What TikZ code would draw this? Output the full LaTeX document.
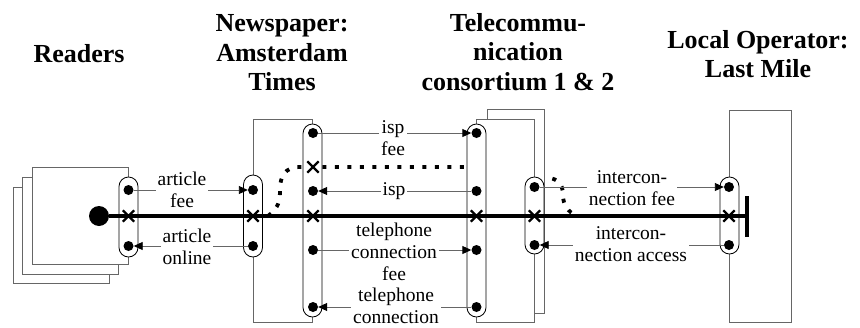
\documentclass[tikz,border=0pt]{standalone}
\usepackage{fontspec}
\setmainfont{Liberation Serif}
\usetikzlibrary{arrows.meta,shapes.misc}
\begin{document}
\begin{tikzpicture}[x=1pt,y=-1pt,
  actorbox/.style={draw=black!60,line width=0.9pt,fill=white},
  vcap/.style={draw=black,line width=0.8pt,fill=white,rounded corners=9.5pt,minimum width=19pt,inner sep=0pt},
  vport/.style={circle,fill=black,inner sep=0pt,minimum size=10pt},
  xmark/.style={cross out,draw=black,line width=2.3pt,minimum size=9pt,inner sep=0pt},
  conn/.style={draw=black!60,line width=0.9pt,-{Triangle[length=9pt,width=8pt,color=black]}},
  lbl/.style={fill=white,inner xsep=2pt,inner ysep=0.5pt,align=center,font=\fontsize{19.5}{22}\selectfont},
  hdr/.style={align=center,font=\fontsize{26}{29.5}\selectfont\bfseries},
  dep/.style={line width=3.8pt,dash pattern=on 4pt off 8.5pt,black},
  mainline/.style={line width=4pt,black}
]
\useasboundingbox (0,0) rectangle (860,327);

% headings
\node[hdr] (hR) at (79,54) {Readers};
\node[hdr] (hN) at (282,53) {Newspaper:\\Amsterdam\\Times};
\node[hdr] (hT) at (518,52) {Telecommu-\\nication\\consortium 1 \& 2};
\node[hdr] (hL) at (758,54) {Local Operator:\\Last Mile};

% readers stacked boxes
\draw[actorbox] (13,187) rectangle (109,283);
\draw[actorbox] (22,177) rectangle (118,274);
\draw[actorbox] (32,167) rectangle (128.5,264);

% newspaper box
\draw[actorbox] (253,119) rectangle (312.5,322);

% dependency path (dotted)
\draw[dep] (268,216) .. controls (279,208) and (280,200) .. (280,190)
  .. controls (280,176) and (285,167) .. (300,167) -- (470,167);
\draw[dep] (540,177) .. controls (556,177) and (563,182) .. (563,195)
  .. controls (563,205) and (568,212) .. (577,216);

% telecom boxes
\draw[actorbox] (487,109) rectangle (544,313);
\draw[actorbox] (476.5,119) rectangle (534.5,322);

% local operator box
\draw[actorbox] (729.5,110) rectangle (791,322);

% value interfaces (capsules)
\node[vcap,minimum height=80pt] (cR) at (128.5,217) {};
\node[vcap,minimum height=82pt] (cN1) at (253,216) {};
\node[vcap,minimum height=193pt] (cN2) at (312.5,220.5) {};
\node[vcap,minimum height=193pt] (cT1) at (476.5,220.5) {};
\node[vcap,minimum height=77pt] (cT2) at (534.5,215.5) {};
\node[vcap,minimum height=77pt] (cL) at (729.5,215.5) {};

% start stimulus and main path
\node[circle,fill=black,minimum size=20pt,inner sep=0pt] (rd) at (99,216) {};
\coordinate (bar) at (747,216);
\coordinate (barT) at (747,196);
\coordinate (barB) at (747,237);
\draw[mainline] (rd) -- (bar);
\draw[mainline] (barT) -- (barB);

% ports
\node[vport] (rTop) at (128.5,190) {};
\node[vport] (rBot) at (128.5,246) {};
\node[vport] (nTop) at (253,190) {};
\node[vport] (nBot) at (253,246) {};
\node[vport] (n2a) at (313,133) {};
\node[vport] (n2b) at (313,191) {};
\node[vport] (n2c) at (313,250) {};
\node[vport] (n2d) at (313,307) {};
\node[vport] (t1a) at (476.5,133) {};
\node[vport] (t1b) at (476.5,191) {};
\node[vport] (t1c) at (476.5,250) {};
\node[vport] (t1d) at (476.5,307) {};
\node[vport] (t2a) at (534.5,187) {};
\node[vport] (t2b) at (534.5,245) {};
\node[vport] (lTop) at (729,187) {};
\node[vport] (lBot) at (729,245) {};

% crosses
\node[xmark] (x1) at (128.5,216) {};
\node[xmark] (x2) at (253,216) {};
\node[xmark] (x3) at (313,216) {};
\node[xmark] (x4) at (313,167) {};
\node[xmark] (x5) at (476.5,216) {};
\node[xmark] (x6) at (534.5,216) {};
\node[xmark] (x7) at (729,216) {};

% value transfers
\draw[conn] (rTop) -- (nTop);
\draw[conn] (nBot) -- (rBot);
\draw[conn] (n2a) -- (t1a);
\draw[conn] (t1b) -- (n2b);
\draw[conn] (n2c) -- (t1c);
\draw[conn] (t1d) -- (n2d);
\draw[conn] (t2a) -- (lTop);
\draw[conn] (lBot) -- (t2b);

% labels
\node[lbl] (l1) at (182,190) {article\\fee};
\node[lbl] (l2) at (187,247) {article\\online};
\node[lbl] (l3) at (393,138) {isp\\fee};
\node[lbl] (l4) at (394,191) {isp};
\node[lbl] (l5) at (394,252) {telephone\\connection\\fee};
\node[lbl] (l6) at (396,306) {telephone\\connection};
\node[lbl] (l7) at (632,188) {intercon-\\nection fee};
\node[lbl] (l8) at (631,244) {intercon-\\nection access};
\end{tikzpicture}
\end{document}
